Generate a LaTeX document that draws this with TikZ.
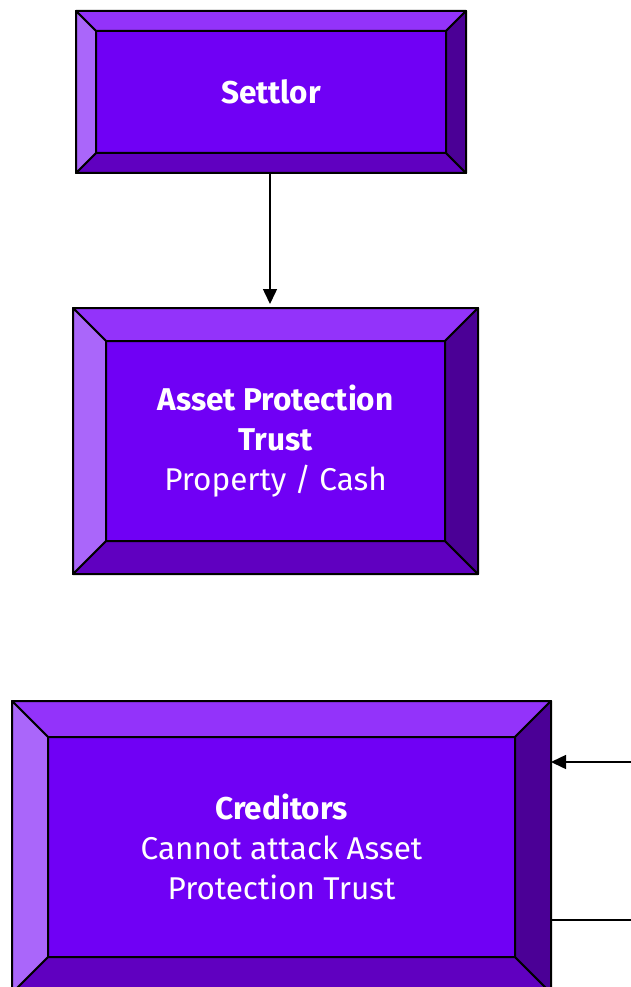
\documentclass[tikz,border=0pt]{standalone}
\usepackage{fontspec}
\setmainfont{Fira Sans}
\usetikzlibrary{arrows.meta}

\definecolor{facecol}{HTML}{7000F5}
\definecolor{topcol}{HTML}{9333FA}
\definecolor{leftcol}{HTML}{AA66FA}
\definecolor{rightcol}{HTML}{4B0096}
\definecolor{botcol}{HTML}{6000C0}

% bevel around a panel node: #1 node name, #2 bevel depth
\newcommand{\bevel}[2]{%
  \filldraw[fill=topcol] (#1.north west) -- (#1.north east) -- ([shift={(-#2,-#2)}]#1.north east) -- ([shift={(#2,-#2)}]#1.north west) -- cycle;
  \filldraw[fill=botcol] (#1.south west) -- (#1.south east) -- ([shift={(-#2,#2)}]#1.south east) -- ([shift={(#2,#2)}]#1.south west) -- cycle;
  \filldraw[fill=leftcol] (#1.north west) -- (#1.south west) -- ([shift={(#2,#2)}]#1.south west) -- ([shift={(#2,-#2)}]#1.north west) -- cycle;
  \filldraw[fill=rightcol] (#1.north east) -- (#1.south east) -- ([shift={(-#2,#2)}]#1.south east) -- ([shift={(-#2,-#2)}]#1.north east) -- cycle;
}

\begin{document}
\begin{tikzpicture}[
  x=1pt, y=1pt, line width=2pt, line join=round,
  panel/.style={fill=facecol, draw=black, align=center, text=white,
    font=\fontsize{31.5}{40}\selectfont, inner sep=0pt},
  >={Triangle[length=15pt, width=14pt]}
]
\useasboundingbox (0,0) rectangle (631,-987);
\clip (0,0) rectangle (631,-987);

\node[panel, minimum width=388pt, minimum height=160pt] (settlor) at (271,-92) {\textbf{Settlor}};
\bevel{settlor}{20pt}

\node[panel, minimum width=403pt, minimum height=264pt] (trust) at (275.5,-441)
  {\textbf{Asset Protection}\\\textbf{Trust}\\Property / Cash};
\bevel{trust}{33pt}

\node[panel, minimum width=537pt, minimum height=290pt] (creditors) at (281.5,-847)
  {\textbf{Creditors}\\Cannot attack Asset\\Protection Trust};
\bevel{creditors}{36pt}

\coordinate (claim) at (631,-762);
\coordinate (back) at (631,-920);

\draw[->, line width=1.5pt, shorten >=4pt] ([xshift=-1pt]settlor.south) -- ([xshift=-1pt]settlor.south |- trust.north);
\draw[->, line width=1.5pt] (claim) -- (claim -| creditors.east);
\draw[line width=1.5pt] (creditors.east |- back) -- (back);
\end{tikzpicture}
\end{document}
